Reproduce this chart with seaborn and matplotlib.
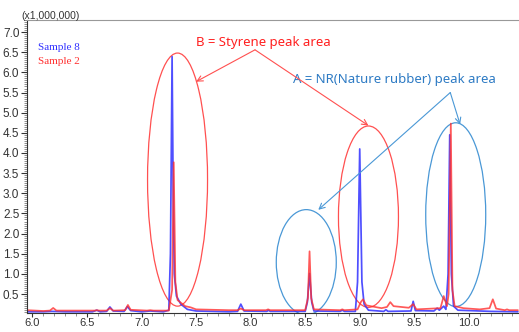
import numpy as np
import pandas as pd
import matplotlib
matplotlib.use("Agg")
import matplotlib.pyplot as plt
from matplotlib.patches import Ellipse
from matplotlib.ticker import MultipleLocator, FormatStrFormatter
import seaborn as sns

# retention time (min) / intensity (x1,000,000)
time_s8 = [5.95, 6.10, 6.18, 6.30, 6.55, 6.59, 6.62, 6.68, 6.71, 6.74, 6.84, 6.87, 6.90,
           7.00, 7.08, 7.20, 7.25, 7.265, 7.28, 7.29, 7.30, 7.32, 7.36, 7.42, 7.50, 7.80,
           7.88, 7.91, 7.94, 8.15, 8.16, 8.18, 8.30, 8.50, 8.52, 8.54, 8.56, 8.58, 8.82,
           8.84, 8.86, 8.96, 8.98, 9.00, 9.02, 9.04, 9.08, 9.22, 9.24, 9.26, 9.47, 9.49,
           9.51, 9.68, 9.71, 9.73, 9.77, 9.79, 9.81, 9.825, 9.84, 9.86, 9.90, 10.20, 10.45]
int_s8 = [0.06, 0.06, 0.07, 0.06, 0.06, 0.10, 0.06, 0.07, 0.18, 0.08, 0.07, 0.19, 0.09,
          0.06, 0.08, 0.06, 0.10, 1.50, 6.39, 3.00, 1.00, 0.45, 0.25, 0.12, 0.08, 0.06,
          0.07, 0.25, 0.08, 0.07, 0.10, 0.07, 0.07, 0.07, 0.30, 1.01, 0.30, 0.08, 0.07,
          0.10, 0.07, 0.07, 0.80, 4.10, 0.80, 0.25, 0.10, 0.07, 0.11, 0.07, 0.08, 0.32,
          0.09, 0.08, 0.15, 0.10, 0.20, 0.12, 1.00, 4.45, 1.00, 0.20, 0.10, 0.07, 0.06]

time_s2 = [5.95, 6.10, 6.16, 6.19, 6.22, 6.40, 6.57, 6.59, 6.61, 6.68, 6.71, 6.74, 6.85,
           6.875, 6.90, 7.05, 7.08, 7.11, 7.25, 7.28, 7.295, 7.31, 7.33, 7.40, 7.45, 7.50,
           7.80, 7.88, 7.91, 7.94, 8.14, 8.16, 8.18, 8.50, 8.525, 8.54, 8.555, 8.58, 8.82,
           8.84, 8.86, 8.98, 9.01, 9.03, 9.06, 9.20, 9.25, 9.28, 9.31, 9.45, 9.49, 9.52,
           9.74, 9.77, 9.80, 9.815, 9.835, 9.85, 9.87, 9.95, 10.10, 10.19, 10.22, 10.25,
           10.33, 10.35, 10.37, 10.45]
int_s2 = [0.10, 0.08, 0.09, 0.155, 0.09, 0.09, 0.09, 0.10, 0.09, 0.09, 0.15, 0.09, 0.10,
          0.23, 0.11, 0.09, 0.10, 0.09, 0.09, 0.60, 3.77, 0.80, 0.35, 0.20, 0.17, 0.12,
          0.10, 0.10, 0.14, 0.10, 0.10, 0.12, 0.10, 0.10, 0.40, 1.56, 0.40, 0.12, 0.10,
          0.12, 0.10, 0.12, 0.30, 0.37, 0.22, 0.15, 0.18, 0.30, 0.20, 0.16, 0.25, 0.12,
          0.15, 0.45, 0.20, 0.50, 4.73, 0.60, 0.20, 0.15, 0.12, 0.15, 0.37, 0.14,
          0.10, 0.12, 0.10, 0.10]

sample_names = ["Sample 8", "Sample 2"]
sample_colors = ["#3030ff", "#ff3030"]

label_b = "B = Styrene peak area"
label_a = "A = NR(Nature rubber) peak area"

sns.set_style("white")
plt.rcParams["font.family"] = ["Liberation Sans", "DejaVu Sans"]

fig = plt.figure(figsize=(5.19, 3.32), dpi=100)
ax = fig.add_axes([27 / 519, 19 / 332, 1 - 27 / 519, 293 / 332])

df8 = pd.DataFrame({"time": time_s8, "intensity": int_s8})
df2 = pd.DataFrame({"time": time_s2, "intensity": int_s2})
sns.lineplot(data=df8, x="time", y="intensity", color=sample_colors[0], lw=1.25,
             alpha=0.85, ax=ax, sort=False)
sns.lineplot(data=df2, x="time", y="intensity", color=sample_colors[1], lw=1.25,
             alpha=0.8, ax=ax, sort=False)

ax.set_xlim(5.95, 10.46)
ax.set_ylim(0.03, 7.3)
ax.set_xlabel("")
ax.set_ylabel("")

ax.xaxis.set_major_locator(MultipleLocator(0.5))
ax.xaxis.set_minor_locator(MultipleLocator(0.1))
ax.yaxis.set_minor_locator(MultipleLocator(0.05))
ax.set_yticks(np.arange(0.5, 7.01, 0.5))
ax.yaxis.set_major_formatter(FormatStrFormatter("%.1f"))
ax.xaxis.set_major_formatter(FormatStrFormatter("%.1f"))
ax.tick_params(axis="both", which="major", direction="out", length=4, width=0.8,
               labelsize=8.5, colors="#333333", pad=1.5)
ax.tick_params(axis="x", which="major", length=3, pad=0.5, labelsize=8)
ax.tick_params(axis="both", which="minor", direction="out", length=2.2, width=0.5,
               colors="#666666")
ax.tick_params(left=True, bottom=True, which="both")

ax.spines["right"].set_visible(False)
ax.spines["top"].set_color("#999999")
ax.spines["left"].set_color("#333333")
ax.spines["bottom"].set_color("#333333")

fig.text(21 / 519, 1 - 16 / 332, "(x1,000,000)", fontsize=7.5, color="#333333",
         va="center", ha="left")

# legend as coloured text
ax.text(0.022, 0.905, sample_names[0], transform=ax.transAxes, color=sample_colors[0],
        family=["Liberation Serif", "DejaVu Serif"], fontsize=8, va="center")
ax.text(0.022, 0.86, sample_names[1], transform=ax.transAxes, color=sample_colors[1],
        family=["Liberation Serif", "DejaVu Serif"], fontsize=8, va="center")

red_c = "#ff5050"
blue_c = "#4a98d6"

ax.add_patch(Ellipse((7.33, 3.34), 0.55, 6.28, fill=False, ec=red_c, lw=0.9))
ax.add_patch(Ellipse((9.08, 2.42), 0.55, 4.5, fill=False, ec=red_c, lw=0.9))
ax.add_patch(Ellipse((8.51, 1.29), 0.55, 2.61, fill=False, ec=blue_c, lw=0.9))
ax.add_patch(Ellipse((9.88, 2.47), 0.55, 4.56, fill=False, ec=blue_c, lw=0.9))

ax.text(8.12, 6.74, label_b, color="#ff2020", fontsize=9.5,
        family=["Noto Sans", "DejaVu Sans"], ha="center", va="center")
ax.text(9.32, 5.82, label_a, color="#2e7bc4", fontsize=9.5,
        family=["Noto Sans", "DejaVu Sans"], ha="center", va="center")

arrow_red = dict(arrowstyle="->", color=red_c, lw=0.8, shrinkA=0, shrinkB=0)
arrow_blue = dict(arrowstyle="->", color=blue_c, lw=0.8, shrinkA=0, shrinkB=0)
ax.annotate("", xy=(7.50, 5.77), xytext=(8.04, 6.56), arrowprops=arrow_red)
ax.annotate("", xy=(9.08, 4.68), xytext=(8.04, 6.56), arrowprops=arrow_red)
ax.annotate("", xy=(9.92, 4.71), xytext=(9.83, 5.50), arrowprops=arrow_blue)
ax.annotate("", xy=(8.62, 2.59), xytext=(9.83, 5.50), arrowprops=arrow_blue)

fig.savefig("out.png", dpi=100)
